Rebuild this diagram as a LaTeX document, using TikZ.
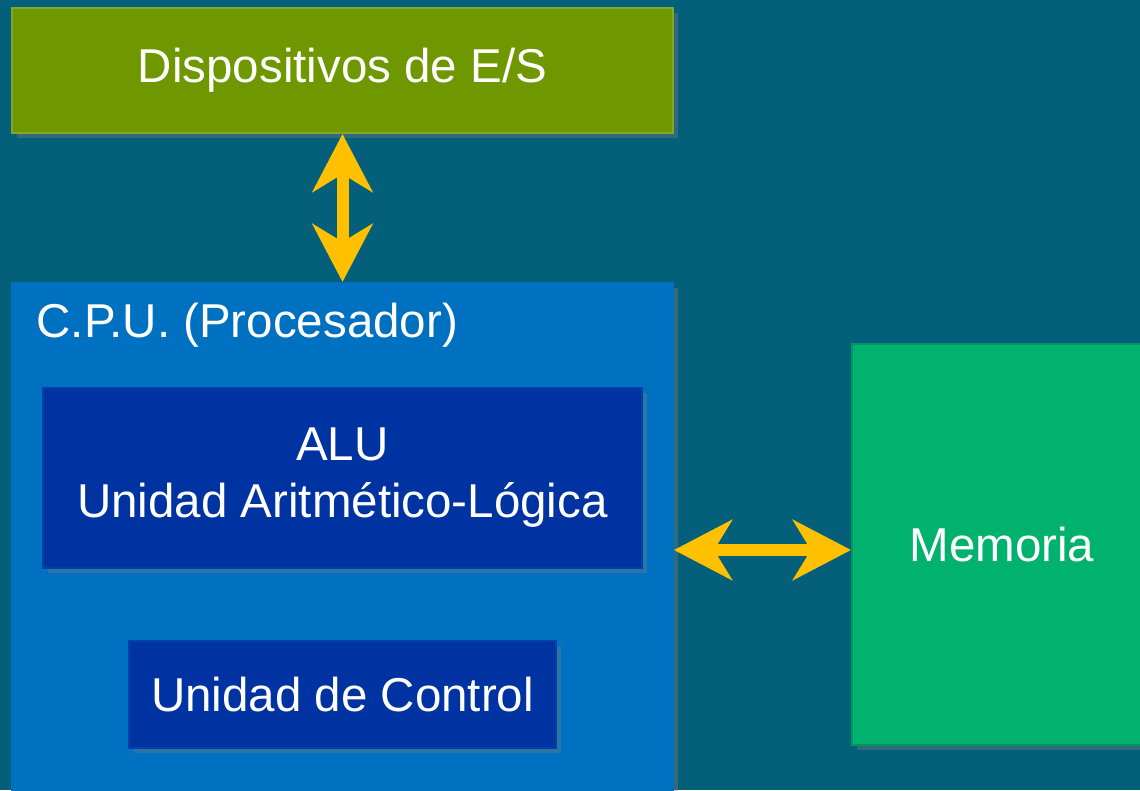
\documentclass[tikz,border=0pt]{standalone}
\usepackage{fontspec}
\setmainfont{Liberation Sans}
\usetikzlibrary{arrows.meta, positioning, shadows}

\definecolor{fondo}{RGB}{4,96,122}
\definecolor{verdeES}{RGB}{111,151,0}
\definecolor{azulCPU}{RGB}{0,112,192}
\definecolor{azulALU}{RGB}{0,51,162}
\definecolor{verdeMem}{RGB}{0,178,110}
\definecolor{amarillo}{RGB}{255,192,0}

\begin{document}
\begin{tikzpicture}[
  x=1pt, y=1pt,
  font=\fontsize{47.5}{57}\selectfont,
  caja/.style={draw, line width=2pt, text=white, align=center, inner sep=0pt,
    drop shadow={opacity=0.35, shadow xshift=5pt, shadow yshift=-5pt}},
  flecha/.style={draw=amarillo, fill=amarillo, line width=12pt,
    {Stealth[length=58pt, width=60pt, inset=18pt]}-{Stealth[length=58pt, width=60pt, inset=18pt]}}
]
  \useasboundingbox[fill=fondo] (0,0) rectangle (1140,790);

  \node[caja, fill=verdeES, draw=verdeES!85!white, minimum width=661pt, minimum height=125pt] (es) at (342.5,719.5) {Dispositivos de E/S};
  \node[caja, fill=azulCPU, draw=azulCPU, minimum width=661pt, minimum height=520pt] (cpu) at (342.5,247) {};
  \node[anchor=base west, text=white] (cpulbl) at (33,452) {C.P.U. (Procesador)};
  \node[caja, fill=azulALU, draw=azulALU!75!azulCPU, minimum width=599pt, minimum height=180pt] (alu) at (342.5,312) {ALU\\Unidad Aritmético-Lógica};
  \node[caja, fill=azulALU, draw=azulALU!75!azulCPU, minimum width=427pt, minimum height=107pt] (uc) at (342.5,95.5) {Unidad de Control};
  \node[caja, fill=verdeMem, draw=verdeMem!85!black, minimum width=300pt, minimum height=401pt] (mem) at (1002,245.5) {Memoria};

  \coordinate (hy) at (0,240);
  \draw[flecha] (es.south) -- (cpu.north);
  \draw[flecha] (cpu.east |- hy) -- (mem.west |- hy);
\end{tikzpicture}
\end{document}
